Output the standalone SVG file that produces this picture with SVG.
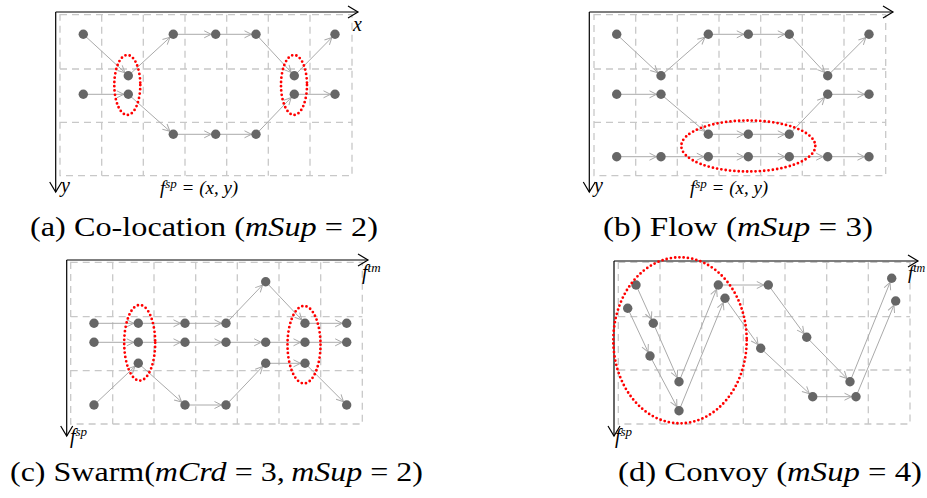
<svg xmlns="http://www.w3.org/2000/svg" width="927" height="498" viewBox="0 0 927 498">
<style>
.grid{fill:none;stroke:#c8c8c8;stroke-width:1.3;stroke-dasharray:7 5}
.axis{fill:none;stroke:#000;stroke-width:1.2;marker-end:url(#ax)}
.edge{fill:none;stroke:#aaa;stroke-width:1;marker-end:url(#ar)}
.nd{fill:#666}
.hl{fill:none;stroke:#f00;stroke-width:2.8;stroke-dasharray:0 4.3;stroke-linecap:round}
.lbl{font-family:"Liberation Serif","DejaVu Serif",serif;font-style:italic;fill:#000}
.cap{font-family:"Liberation Serif","DejaVu Serif",serif;font-size:28px;fill:#000}
.it{font-style:italic}
</style>
<defs>
<marker id="ax" markerUnits="userSpaceOnUse" markerWidth="14" markerHeight="14" viewBox="-12 -7 14 14" refX="0" refY="0" orient="auto" overflow="visible">
<path d="M-10,-6 L0,0 L-10,6" fill="none" stroke="#000" stroke-width="1.2"/>
</marker>
<marker id="ar" markerUnits="userSpaceOnUse" markerWidth="14" markerHeight="10" viewBox="-8 -5 14 10" refX="4.5" refY="0" orient="auto" overflow="visible">
<path d="M-7,-3.5 L0,0 L-7,3.5" fill="none" stroke="#aaa" stroke-width="1"/>
</marker>
</defs>

<!-- grids -->
<g id="grids">
<path class="grid" d="M60,14.7H352V175.7H60Z M101.7,14.7V175.7 M143.3,14.7V175.7 M185,14.7V175.7 M226.7,14.7V175.7 M268.3,14.7V175.7 M310,14.7V175.7 M60,69H352 M60,122.3H352"/>
<path class="grid" d="M594,14.7H885.7V175.7H594Z M635.7,14.7V175.7 M677.3,14.7V175.7 M719,14.7V175.7 M760.7,14.7V175.7 M802.3,14.7V175.7 M844,14.7V175.7 M594,69H885.7 M594,122.3H885.7"/>
<path class="grid" d="M70.7,262.3H362.3V424H70.7Z M112.7,262.3V424 M154,262.3V424 M195.7,262.3V424 M237.3,262.3V424 M279,262.3V424 M320.7,262.3V424 M70.7,316.7H362.3 M70.7,370.7H362.3"/>
<path class="grid" d="M618.3,262.3H910V424H618.3Z M660,262.3V424 M701.7,262.3V424 M743.3,262.3V424 M785,262.3V424 M826.7,262.3V424 M868.3,262.3V424 M618.3,316.7H910 M618.3,370H910"/>
</g>

<!-- axes -->
<g id="axes">
<path class="axis" d="M55.7,12H358"/>
<path class="axis" d="M55.7,12V192"/>
<path class="axis" d="M589.3,12H893"/>
<path class="axis" d="M589.3,12V192"/>
<path class="axis" d="M66.7,260H368"/>
<path class="axis" d="M66.7,260V436"/>
<path class="axis" d="M614,261H918"/>
<path class="axis" d="M614,261V436"/>
</g>

<!-- connectors -->
<g id="connectors">
<!-- (a) -->
<line class="edge" x1="83.3" y1="34.3" x2="128.3" y2="75.7"/>
<line class="edge" x1="83.3" y1="94.3" x2="128.3" y2="94.3"/>
<line class="edge" x1="128.3" y1="75.7" x2="173.3" y2="34.3"/>
<line class="edge" x1="128.3" y1="94.3" x2="173.3" y2="134.3"/>
<line class="edge" x1="173.3" y1="34.3" x2="215.7" y2="34.3"/>
<line class="edge" x1="215.7" y1="34.3" x2="256" y2="34.3"/>
<line class="edge" x1="173.3" y1="134.3" x2="215.7" y2="134.3"/>
<line class="edge" x1="215.7" y1="134.3" x2="256" y2="134.3"/>
<line class="edge" x1="256" y1="34.3" x2="294.3" y2="75.7"/>
<line class="edge" x1="256" y1="134.3" x2="294.3" y2="94.3"/>
<line class="edge" x1="294.3" y1="75.7" x2="335" y2="34.3"/>
<line class="edge" x1="294.3" y1="94.3" x2="335" y2="94.3"/>
<!-- (b) -->
<line class="edge" x1="616.7" y1="34.3" x2="661" y2="75.7"/>
<line class="edge" x1="661" y1="75.7" x2="708.3" y2="34.3"/>
<line class="edge" x1="708.3" y1="34.3" x2="748.3" y2="34.3"/>
<line class="edge" x1="748.3" y1="34.3" x2="789.3" y2="34.3"/>
<line class="edge" x1="789.3" y1="34.3" x2="827.7" y2="75.7"/>
<line class="edge" x1="827.7" y1="75.7" x2="869" y2="34.3"/>
<line class="edge" x1="616.7" y1="94.3" x2="661" y2="94.3"/>
<line class="edge" x1="661" y1="94.3" x2="708.3" y2="134.3"/>
<line class="edge" x1="708.3" y1="134.3" x2="748.3" y2="134.3"/>
<line class="edge" x1="748.3" y1="134.3" x2="789.3" y2="134.3"/>
<line class="edge" x1="789.3" y1="134.3" x2="827.7" y2="94.3"/>
<line class="edge" x1="827.7" y1="94.3" x2="869" y2="94.3"/>
<line class="edge" x1="616.7" y1="156.7" x2="661" y2="156.7"/>
<line class="edge" x1="661" y1="156.7" x2="708.3" y2="156.7"/>
<line class="edge" x1="708.3" y1="156.7" x2="748.3" y2="156.7"/>
<line class="edge" x1="748.3" y1="156.7" x2="789.3" y2="156.7"/>
<line class="edge" x1="789.3" y1="156.7" x2="827.7" y2="156.7"/>
<line class="edge" x1="827.7" y1="156.7" x2="869" y2="156.7"/>
<!-- (c) -->
<line class="edge" x1="94" y1="323.3" x2="138.3" y2="323.3"/>
<line class="edge" x1="138.3" y1="323.3" x2="185" y2="323.3"/>
<line class="edge" x1="185" y1="323.3" x2="226" y2="323.3"/>
<line class="edge" x1="226" y1="323.3" x2="265.7" y2="281.7"/>
<line class="edge" x1="265.7" y1="281.7" x2="305" y2="323.3"/>
<line class="edge" x1="305" y1="323.3" x2="346.7" y2="323.3"/>
<line class="edge" x1="94" y1="342.3" x2="138.3" y2="342.3"/>
<line class="edge" x1="138.3" y1="342.3" x2="185" y2="342.3"/>
<line class="edge" x1="185" y1="342.3" x2="226" y2="342.3"/>
<line class="edge" x1="226" y1="342.3" x2="265.7" y2="342.3"/>
<line class="edge" x1="265.7" y1="342.3" x2="305" y2="342.3"/>
<line class="edge" x1="305" y1="342.3" x2="346.7" y2="342.3"/>
<line class="edge" x1="94" y1="405" x2="138.3" y2="363.3"/>
<line class="edge" x1="138.3" y1="363.3" x2="185" y2="405"/>
<line class="edge" x1="185" y1="405" x2="226" y2="405"/>
<line class="edge" x1="226" y1="405" x2="265.7" y2="363.3"/>
<line class="edge" x1="265.7" y1="363.3" x2="305" y2="363.3"/>
<line class="edge" x1="305" y1="363.3" x2="346.7" y2="405"/>
<!-- (d) -->
<line class="edge" x1="636" y1="285" x2="653.3" y2="323.3"/>
<line class="edge" x1="653.3" y1="323.3" x2="679" y2="381.7"/>
<line class="edge" x1="679" y1="381.7" x2="718.3" y2="285"/>
<line class="edge" x1="718.3" y1="285" x2="768.3" y2="285"/>
<line class="edge" x1="768.3" y1="285" x2="806.7" y2="337.3"/>
<line class="edge" x1="806.7" y1="337.3" x2="850" y2="381.7"/>
<line class="edge" x1="850" y1="381.7" x2="891.7" y2="278.3"/>
<line class="edge" x1="627.7" y1="308.3" x2="650" y2="356"/>
<line class="edge" x1="650" y1="356" x2="679" y2="410.7"/>
<line class="edge" x1="679" y1="410.7" x2="725" y2="298.3"/>
<line class="edge" x1="725" y1="298.3" x2="760.7" y2="348.3"/>
<line class="edge" x1="760.7" y1="348.3" x2="812.7" y2="396.7"/>
<line class="edge" x1="812.7" y1="396.7" x2="856" y2="396.7"/>
<line class="edge" x1="856" y1="396.7" x2="895.7" y2="301"/>
</g>

<!-- nodes (a) -->
<g id="a-n1"><circle class="nd" cx="83.3" cy="34.3" r="4.7"/></g>
<g id="a-n2"><circle class="nd" cx="83.3" cy="94.3" r="4.7"/></g>
<g id="a-n3"><circle class="nd" cx="128.3" cy="75.7" r="4.7"/></g>
<g id="a-n4"><circle class="nd" cx="128.3" cy="94.3" r="4.7"/></g>
<g id="a-n5"><circle class="nd" cx="173.3" cy="34.3" r="4.7"/></g>
<g id="a-n6"><circle class="nd" cx="215.7" cy="34.3" r="4.7"/></g>
<g id="a-n7"><circle class="nd" cx="256" cy="34.3" r="4.7"/></g>
<g id="a-n8"><circle class="nd" cx="173.3" cy="134.3" r="4.7"/></g>
<g id="a-n9"><circle class="nd" cx="215.7" cy="134.3" r="4.7"/></g>
<g id="a-n10"><circle class="nd" cx="256" cy="134.3" r="4.7"/></g>
<g id="a-n11"><circle class="nd" cx="294.3" cy="75.7" r="4.7"/></g>
<g id="a-n12"><circle class="nd" cx="294.3" cy="94.3" r="4.7"/></g>
<g id="a-n13"><circle class="nd" cx="335" cy="34.3" r="4.7"/></g>
<g id="a-n14"><circle class="nd" cx="335" cy="94.3" r="4.7"/></g>

<!-- nodes (b) -->
<g id="b-n1"><circle class="nd" cx="616.7" cy="34.3" r="4.7"/></g>
<g id="b-n2"><circle class="nd" cx="661" cy="75.7" r="4.7"/></g>
<g id="b-n3"><circle class="nd" cx="708.3" cy="34.3" r="4.7"/></g>
<g id="b-n4"><circle class="nd" cx="748.3" cy="34.3" r="4.7"/></g>
<g id="b-n5"><circle class="nd" cx="789.3" cy="34.3" r="4.7"/></g>
<g id="b-n6"><circle class="nd" cx="827.7" cy="75.7" r="4.7"/></g>
<g id="b-n7"><circle class="nd" cx="869" cy="34.3" r="4.7"/></g>
<g id="b-n8"><circle class="nd" cx="616.7" cy="94.3" r="4.7"/></g>
<g id="b-n9"><circle class="nd" cx="661" cy="94.3" r="4.7"/></g>
<g id="b-n10"><circle class="nd" cx="708.3" cy="134.3" r="4.7"/></g>
<g id="b-n11"><circle class="nd" cx="748.3" cy="134.3" r="4.7"/></g>
<g id="b-n12"><circle class="nd" cx="789.3" cy="134.3" r="4.7"/></g>
<g id="b-n13"><circle class="nd" cx="827.7" cy="94.3" r="4.7"/></g>
<g id="b-n14"><circle class="nd" cx="869" cy="94.3" r="4.7"/></g>
<g id="b-n15"><circle class="nd" cx="616.7" cy="156.7" r="4.7"/></g>
<g id="b-n16"><circle class="nd" cx="661" cy="156.7" r="4.7"/></g>
<g id="b-n17"><circle class="nd" cx="708.3" cy="156.7" r="4.7"/></g>
<g id="b-n18"><circle class="nd" cx="748.3" cy="156.7" r="4.7"/></g>
<g id="b-n19"><circle class="nd" cx="789.3" cy="156.7" r="4.7"/></g>
<g id="b-n20"><circle class="nd" cx="827.7" cy="156.7" r="4.7"/></g>
<g id="b-n21"><circle class="nd" cx="869" cy="156.7" r="4.7"/></g>

<!-- nodes (c) -->
<g id="c-n1"><circle class="nd" cx="94" cy="323.3" r="4.7"/></g>
<g id="c-n2"><circle class="nd" cx="138.3" cy="323.3" r="4.7"/></g>
<g id="c-n3"><circle class="nd" cx="185" cy="323.3" r="4.7"/></g>
<g id="c-n4"><circle class="nd" cx="226" cy="323.3" r="4.7"/></g>
<g id="c-n5"><circle class="nd" cx="265.7" cy="281.7" r="4.7"/></g>
<g id="c-n6"><circle class="nd" cx="305" cy="323.3" r="4.7"/></g>
<g id="c-n7"><circle class="nd" cx="346.7" cy="323.3" r="4.7"/></g>
<g id="c-n8"><circle class="nd" cx="94" cy="342.3" r="4.7"/></g>
<g id="c-n9"><circle class="nd" cx="138.3" cy="342.3" r="4.7"/></g>
<g id="c-n10"><circle class="nd" cx="185" cy="342.3" r="4.7"/></g>
<g id="c-n11"><circle class="nd" cx="226" cy="342.3" r="4.7"/></g>
<g id="c-n12"><circle class="nd" cx="265.7" cy="342.3" r="4.7"/></g>
<g id="c-n13"><circle class="nd" cx="305" cy="342.3" r="4.7"/></g>
<g id="c-n14"><circle class="nd" cx="346.7" cy="342.3" r="4.7"/></g>
<g id="c-n15"><circle class="nd" cx="94" cy="405" r="4.7"/></g>
<g id="c-n16"><circle class="nd" cx="138.3" cy="363.3" r="4.7"/></g>
<g id="c-n17"><circle class="nd" cx="185" cy="405" r="4.7"/></g>
<g id="c-n18"><circle class="nd" cx="226" cy="405" r="4.7"/></g>
<g id="c-n19"><circle class="nd" cx="265.7" cy="363.3" r="4.7"/></g>
<g id="c-n20"><circle class="nd" cx="305" cy="363.3" r="4.7"/></g>
<g id="c-n21"><circle class="nd" cx="346.7" cy="405" r="4.7"/></g>

<!-- nodes (d) -->
<g id="d-n1"><circle class="nd" cx="636" cy="285" r="4.7"/></g>
<g id="d-n2"><circle class="nd" cx="653.3" cy="323.3" r="4.7"/></g>
<g id="d-n3"><circle class="nd" cx="679" cy="381.7" r="4.7"/></g>
<g id="d-n4"><circle class="nd" cx="718.3" cy="285" r="4.7"/></g>
<g id="d-n5"><circle class="nd" cx="768.3" cy="285" r="4.7"/></g>
<g id="d-n6"><circle class="nd" cx="806.7" cy="337.3" r="4.7"/></g>
<g id="d-n7"><circle class="nd" cx="850" cy="381.7" r="4.7"/></g>
<g id="d-n8"><circle class="nd" cx="891.7" cy="278.3" r="4.7"/></g>
<g id="d-n9"><circle class="nd" cx="627.7" cy="308.3" r="4.7"/></g>
<g id="d-n10"><circle class="nd" cx="650" cy="356" r="4.7"/></g>
<g id="d-n11"><circle class="nd" cx="679" cy="410.7" r="4.7"/></g>
<g id="d-n12"><circle class="nd" cx="725" cy="298.3" r="4.7"/></g>
<g id="d-n13"><circle class="nd" cx="760.7" cy="348.3" r="4.7"/></g>
<g id="d-n14"><circle class="nd" cx="812.7" cy="396.7" r="4.7"/></g>
<g id="d-n15"><circle class="nd" cx="856" cy="396.7" r="4.7"/></g>
<g id="d-n16"><circle class="nd" cx="895.7" cy="301" r="4.7"/></g>

<!-- highlight ellipses -->
<g id="highlights">
<ellipse class="hl" cx="127.3" cy="85" rx="13" ry="30"/>
<ellipse class="hl" cx="294" cy="85" rx="13" ry="30"/>
<ellipse class="hl" cx="748.3" cy="146" rx="67" ry="25.5"/>
<ellipse class="hl" cx="139.7" cy="342.8" rx="15.5" ry="37.8"/>
<ellipse class="hl" cx="304" cy="344.7" rx="16.5" ry="38.7"/>
<ellipse class="hl" cx="680" cy="340.3" rx="66.7" ry="83"/>
</g>

<!-- axis labels -->
<g id="labels">
<text class="lbl" x="353" y="31" font-size="20">x</text>
<text class="lbl" x="61" y="192" font-size="20">y</text>
<text class="lbl" x="160" y="194" font-size="19">f<tspan dy="-6" font-size="13">sp</tspan><tspan dy="6"> = (x, y)</tspan></text>
<text class="lbl" x="594" y="192" font-size="20">y</text>
<text class="lbl" x="690" y="194" font-size="19">f<tspan dy="-6" font-size="13">sp</tspan><tspan dy="6"> = (x, y)</tspan></text>
<text class="lbl" x="362" y="279" font-size="20">f<tspan dy="-7" font-size="13">tm</tspan></text>
<text class="lbl" x="70" y="443" font-size="20">f<tspan dy="-7" font-size="13">sp</tspan></text>
<text class="lbl" x="908" y="279" font-size="19">f<tspan dy="-7" font-size="12">tm</tspan></text>
<text class="lbl" x="615" y="443" font-size="20">f<tspan dy="-7" font-size="13">sp</tspan></text>
</g>

<!-- captions -->
<g id="captions">
<text class="cap" x="30" y="236" textLength="348" lengthAdjust="spacingAndGlyphs">(a) Co-location (<tspan class="it">mSup</tspan>&#160;=&#160;2)</text>
<text class="cap" x="603" y="236" textLength="270" lengthAdjust="spacingAndGlyphs">(b) Flow (<tspan class="it">mSup</tspan>&#160;=&#160;3)</text>
<text class="cap" x="10" y="481" textLength="413" lengthAdjust="spacingAndGlyphs">(c) Swarm(<tspan class="it">mCrd</tspan>&#160;=&#160;3,<tspan class="it">&#8201;mSup</tspan>&#160;=&#160;2)</text>
<text class="cap" x="618" y="481" textLength="304" lengthAdjust="spacingAndGlyphs">(d) Convoy (<tspan class="it">mSup</tspan>&#160;=&#160;4)</text>
</g>
</svg>
